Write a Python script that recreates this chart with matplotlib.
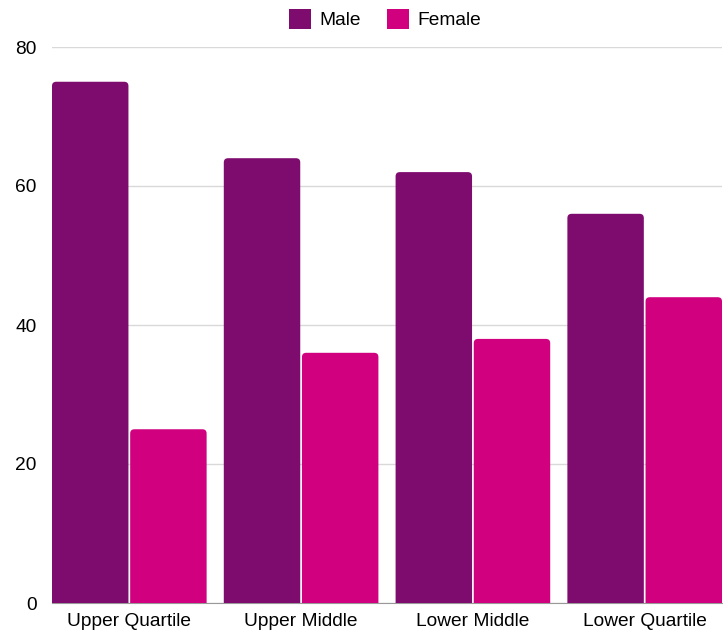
import matplotlib
matplotlib.use("Agg")
import matplotlib.pyplot as plt
from matplotlib.patches import FancyBboxPatch, Patch
import numpy as np

plt.rcParams['font.family'] = ['Liberation Sans', 'DejaVu Sans']

categories = ["Upper Quartile", "Upper Middle", "Lower Middle", "Lower Quartile"]
male = [75, 64, 62, 56]
female = [25, 36, 38, 44]
yticks = [0, 20, 40, 60, 80]

male_color = "#7e0c6e"
female_color = "#d0007f"

fig = plt.figure(figsize=(7.24, 6.37), dpi=100)
ax = fig.add_axes([52/724, 1 - 603/637, 670/724, (603-47)/637])

x = np.arange(len(categories))
w = 0.445
off = 0.2275

def rounded_bars(xs, vals, color, label):
    bars = ax.bar(xs, vals, width=w, color=color, label=label, zorder=3)
    for p in bars.patches:
        bx, by = p.get_x(), p.get_y()
        bw, bh = p.get_width(), p.get_height()
        p.set_visible(False)
        r = 0.025
        asp = 24
        ext = 2.0  # extend below the baseline so the bottom corners are clipped
        fb = FancyBboxPatch((bx, by - ext), bw, bh + ext,
                            boxstyle=f"round,pad=0,rounding_size={r}",
                            mutation_aspect=asp, facecolor=color,
                            edgecolor="none", zorder=3, clip_on=True)
        ax.add_patch(fb)
    return bars

rounded_bars(x - off, male, male_color, "Male")
rounded_bars(x + off, female, female_color, "Female")

ax.set_xlim(-0.45, len(categories) - 1 + 0.45)
ax.set_ylim(0, 80)
ax.set_yticks(yticks)
ax.set_xticks(x)
ax.set_xticklabels(categories)
ax.yaxis.grid(True, color="#d9d9d9", linewidth=1, zorder=0)
ax.set_axisbelow(True)
for s in ["top", "right", "left"]:
    ax.spines[s].set_visible(False)
ax.spines["bottom"].set_color("#999999")
ax.spines["bottom"].set_zorder(2)
ax.tick_params(axis="both", length=0, labelsize=13.8, colors="#000000")
ax.tick_params(axis="x", pad=7)
ax.tick_params(axis="y", pad=11)

handles = [Patch(facecolor=male_color, label="Male"),
           Patch(facecolor=female_color, label="Female")]
leg = fig.legend(handles=handles, loc="center", bbox_to_anchor=(385/724, 1 - 19/637),
                 ncol=2, frameon=False, fontsize=13.8, handlelength=1.13,
                 handleheight=1.2, handletextpad=0.42, columnspacing=1.4,
                 borderpad=0, borderaxespad=0)

fig.savefig("out.png", dpi=100)
